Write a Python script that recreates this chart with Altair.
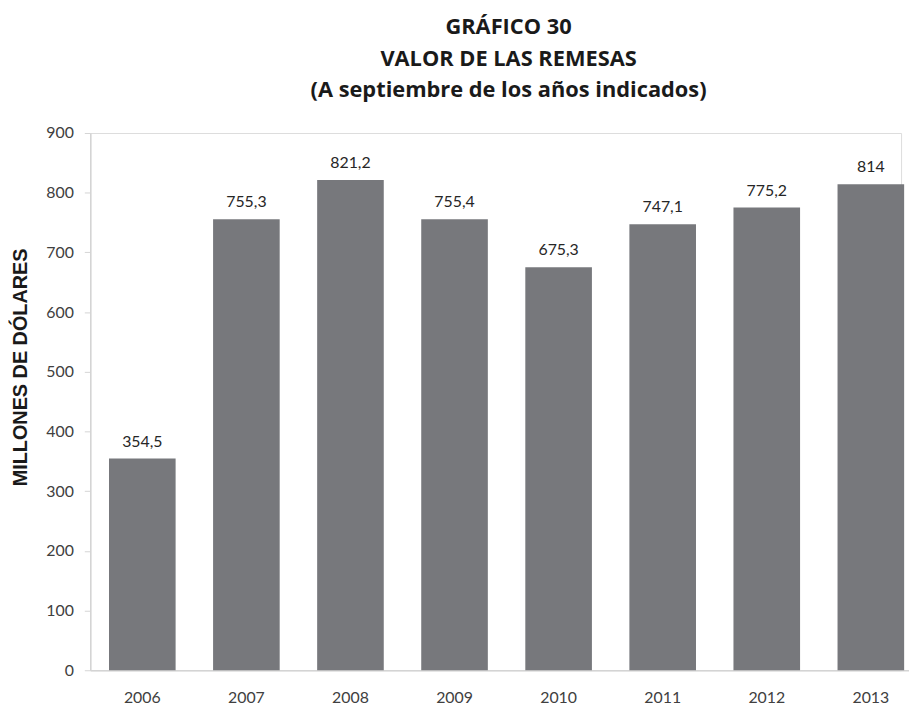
import altair as alt
import pandas as pd

years = ["2006", "2007", "2008", "2009", "2010", "2011", "2012", "2013"]
values = [354.5, 755.3, 821.2, 755.4, 675.3, 747.1, 775.2, 814.0]
labels = ["354,5", "755,3", "821,2", "755,4", "675,3", "747,1", "775,2", "814"]
y_ticks = [0, 100, 200, 300, 400, 500, 600, 700, 800, 900]

df = pd.DataFrame({"year": years, "value": values, "label": labels})

x = alt.X(
    "year:N",
    sort=years,
    scale=alt.Scale(range=[0, 840], paddingInner=0.36, paddingOuter=0.18),
    axis=alt.Axis(
        title=None, labelAngle=0, ticks=False, tickSize=0, labelPadding=20,
        labelFont="Lato", labelFontSize=16, labelColor="#404040",
        domainColor="#d4d4d4", domainWidth=1.5, grid=False,
    ),
)
y = alt.Y(
    "value:Q",
    scale=alt.Scale(domain=[0, 900], nice=False),
    axis=alt.Axis(
        title="MILLONES DE DÓLARES", values=y_ticks, grid=False,
        tickSize=6, tickColor="#d4d4d4", domainColor="#d4d4d4", domainWidth=1.5,
        labelPadding=11, labelFont="Lato", labelFontSize=16, labelColor="#404040",
        titleFont="Liberation Sans", titleFontSize=20, titleFontWeight="bold",
        titleColor="#1a1a1a", titleAngle=-90, titleX=-70, titleY=236,
        titleAlign="center", titleBaseline="middle",
    ),
)

bars = alt.Chart(df).mark_bar(color="#77787c").encode(x=x, y=y)
text = alt.Chart(df).mark_text(
    baseline="alphabetic", dy=-12, font="Lato", fontSize=16, color="#262626"
).encode(x=x, y=y, text="label:N")

chart = alt.layer(bars, text).properties(
    width=818,
    height=542,
    title=alt.TitleParams(
        text=["GRÁFICO 30", "VALOR DE LAS REMESAS", "(A septiembre de los años indicados)"],
        font="Open Sans", fontSize=22, fontWeight="bold", color="#1a1a1a",
        lineHeight=32, anchor="middle", dx=13, offset=23,
    ),
    autosize=alt.AutoSizeParams(type="none"),
    padding={"left": 83, "top": 123, "right": 8, "bottom": 35},
).configure_view(stroke=None).configure(background="white")

chart.save("out.html", embed_options={"renderer": "svg", "actions": False})
